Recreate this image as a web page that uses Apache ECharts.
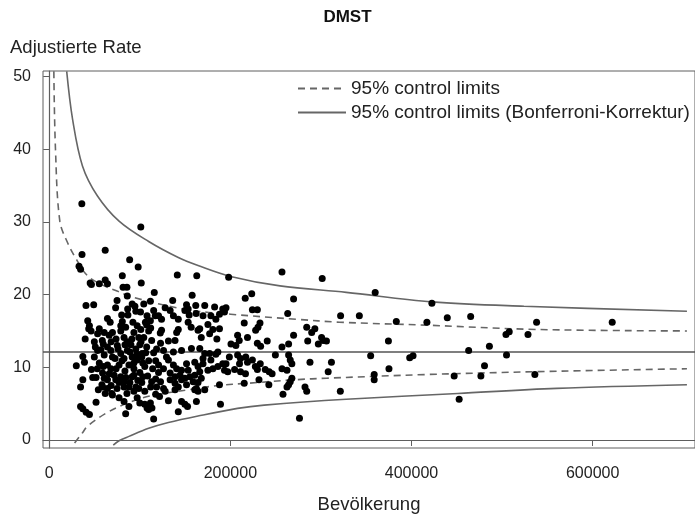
<!DOCTYPE html>
<html><head><meta charset="utf-8">
<script src="https://cdn.jsdelivr.net/npm/echarts@6/dist/echarts.min.js"></script>
<style>html,body{margin:0;padding:0;background:#fff}#c{width:695px;height:519px}</style>
</head><body><div id="c"></div>
<script>
const xTicks = [0, 200000, 400000, 600000];
const yTicks = [0, 10, 20, 30, 40, 50];
const centerRate = 12.2;

const pop = [36000,101100,61800,36200,88800,32900,34600,98200,80700,141400,162900,45200,46600,55300,61800,64300,101600,81500,85800,116000,86200,157800,74900,40600,49100,91600,94600,104400,111700,136300,73300,86600,128000,133500,137100,142500,151600,153400,149800,154500,161800,171700,182600,191600,80000,86900,95600,100800,108000,117100,42500,44400,64300,67300,80700,79000,84400,92400,97100,106200,111700,55300,43600,46200,39700,53400,60700,66200,69800,79000,82600,86200,93500,98900,101400,53400,57100,64300,68100,69800,75200,79000,82600,86200,91600,97100,102500,37100,38900,29900,64300,68100,48000,51700,58900,60700,64300,71700,73500,79000,82600,91600,93500,37100,34600,58900,64300,82600,69800,77100,82600,88000,97100,100000,51700,34600,37100,40800,44400,84400,58200,69100,105500,108000,109800,115300,131600,142500,146100,149800,162500,189100,188000,167900,160700,164300,138900,142500,122600,140700,131600,138900,166200,177100,188000,185100,126200,137100,146100,157000,166200,171700,177100,186200,131600,137100,140700,146100,151600,153400,160700,164300,169800,175200,180700,186200,191600,166200,133500,138900,144400,149800,155300,160700,133500,138900,146100,151600,158900,162500,171700,126200,128000,121800,111700,113400,152700,101100,109800,104400,113100,100000,107600,115300,102200,109800,105500,114200,100000,108700,117500,102200,112000,105500,117500,98900,117500,120700,122900,122900,49800,58600,73800,90200,95600,88000,93500,77100,72700,83600,97800,88000,93500,74900,49800,55300,60700,46600,54200,115300,120700,124000,162200,169800,178500,184000,107600,112000,153400,156700,175200,180700,124000,142500,198100,257000,301400,216400,223600,269800,321700,263300,195200,193500,188000,224300,229800,232700,230500,227900,215300,284300,289800,293300,269800,285400,300700,302500,297100,240700,264300,257000,229800,233400,208000,209800,218900,206100,200700,167900,164300,249700,264300,266100,267900,287900,311600,308000,217000,208000,211200,218900,224300,210100,198900,195200,193500,184000,178500,169800,197100,204700,211200,216700,227600,229800,233000,238500,242900,246100,257000,262500,267900,266100,264300,262500,282400,284300,321400,258100,242500,231600,215300,276300,164300,359900,422500,342400,383200,417000,439500,465300,538100,621600,507900,504300,528600,306100,374500,486000,463100,354900,398000,401700,504900,375100,480600,358800,358800,447100,476600,536200,452600,
  50930,59650,68370,76010,83640,91270,96730,89090,80370,73830,66190,53110,59650,84730,89090,77100,68370,95640,103270,113080,118540,120720,126170,129440,118540,106540,103270,93460,85820,61830];
const rate = [32.5,29.3,26.1,25.5,24.8,23.9,23.5,23.8,22.6,22.7,22.6,21.6,21.4,21.5,22.0,21.5,21.6,21.0,21.0,20.3,19.8,19.9,19.2,18.5,18.6,18.7,18.4,18.7,19.1,19.2,18.2,18.0,18.2,17.8,17.1,16.6,18.6,18.0,17.8,17.2,18.5,18.5,18.3,18.0,17.2,17.2,17.7,17.6,17.1,17.1,16.4,15.7,16.7,16.2,16.3,15.7,15.5,16.2,15.7,16.2,16.4,15.3,15.3,15.0,13.9,14.6,14.8,14.4,14.8,15.0,14.1,13.5,14.8,14.1,13.5,12.3,12.4,12.8,12.3,11.4,13.0,11.9,11.2,12.3,11.4,11.0,11.9,11.5,10.7,10.2,10.3,9.8,8.6,8.6,9.2,8.5,8.3,8.9,8.3,8.7,8.0,8.7,8.9,8.3,7.3,7.3,7.1,7.3,6.2,5.8,5.3,4.6,5.8,5.1,5.2,4.6,4.3,3.8,3.5,3.6,7.6,6.4,4.9,4.4,4.2,2.9,5.4,3.9,5.3,4.9,5.3,4.9,7.6,8.5,6.9,6.7,6.9,7.3,14.7,14.8,13.6,13.7,15.3,14.6,15.3,13.9,12.3,12.1,12.3,12.6,12.6,11.9,11.9,12.1,11.0,10.3,9.8,9.6,10.5,9.6,10.7,10.1,10.5,9.6,9.8,10.1,10.5,9.4,9.2,8.7,8.9,8.5,8.7,8.9,8.3,7.8,8.3,7.6,8.0,7.1,6.9,7.1,6.7,6.0,5.1,4.4,4.6,15.2,15.0,14.1,13.7,13.1,12.8,12.0,11.4,10.9,10.1,9.8,9.3,8.8,8.4,7.9,7.3,6.7,6.3,7.1,10.9,9.3,8.0,13.3,13.5,13.7,13.9,13.1,12.5,10.3,9.8,10.3,11.2,9.5,8.2,7.3,6.7,7.1,11.4,10.6,11.7,9.7,6.9,17.8,17.1,16.6,17.4,17.1,17.1,16.6,15.8,15.4,16.2,15.5,15.9,15.2,15.1,15.2,22.4,23.1,22.2,19.5,20.1,19.4,17.1,17.4,18.2,17.6,17.3,17.9,17.9,16.1,15.5,15.1,16.1,15.5,14.8,15.3,14.4,13.6,14.1,13.7,13.2,13.6,13.2,12.8,13.3,12.9,14.4,13.7,14.1,13.0,13.2,14.1,15.1,11.7,11.7,11.0,10.5,10.7,10.7,9.4,11.4,11.7,11.2,10.7,11.0,10.5,11.4,10.5,9.6,11.8,11.0,11.2,9.4,9.7,9.4,9.1,10.1,9.7,10.5,9.7,9.4,9.1,9.8,9.6,8.5,8.0,7.6,7.3,7.3,6.7,6.7,6.3,7.6,8.3,7.8,3.0,7.9,20.3,18.8,17.1,16.3,16.2,16.8,17.0,16.2,16.2,14.9,14.5,14.5,13.6,13.6,12.9,12.3,11.6,11.3,11.6,11.7,9.8,10.2,9.0,8.3,8.8,8.8,9.0,5.6,
  12.8,13.2,13.5,12.5,13.1,13.9,11.8,12.1,10.9,9.8,9.1,9.8,10.1,8.6,7.9,7.9,7.5,7.3,8.7,8.0,7.3,10.3,9.8,11.4,12.5,12.0,10.6,10.6,6.4,6.4];

const dashUpperPop  = [5100, 6900, 11700, 20400, 30200, 42200, 60700, 74900, 90200, 153000, 200300, 273400, 320300, 415200, 538400, 704100];
const dashUpperRate = [50.7, 40.0, 30.1, 27.1, 24.8, 22.6, 21.2, 20.5, 19.7, 17.9, 17.3, 16.6, 16.2, 15.8, 15.2, 15.0];
const dashLowerPop  = [28000, 36800, 42200, 63000, 84700, 113100, 153500, 186200, 218900, 273400, 306100, 415200, 538400, 704100];
const dashLowerRate = [-0.4, 1.0, 1.9, 3.7, 5.0, 6.1, 6.9, 7.5, 7.8, 8.3, 8.5, 9.0, 9.4, 9.8];
const bonfUpperPop  = [19300, 25800, 36700, 53100, 77100, 109800, 142500, 164300, 200300, 254800, 327900, 422800, 524200, 704100];
const bonfUpperRate = [50.7, 44.1, 37.7, 33.6, 30.1, 27.3, 25.1, 24.0, 22.5, 21.2, 20.3, 19.0, 18.4, 17.7];
const bonfLowerPop  = [70700, 77100, 88000, 109800, 131600, 164300, 207900, 237400, 327900, 451200, 560200, 704100];
const bonfLowerRate = [-0.7, -0.1, 0.5, 1.6, 2.4, 3.3, 4.35, 4.8, 5.6, 6.4, 7.1, 7.6];

const legendDash = '95% control limits';
const legendBonf = '95% control limits (Bonferroni-Korrektur)';

const F = '"Liberation Sans", Arial, sans-serif';
const gray = '#5e5e5e';
const pairs = (xs, ys) => xs.map((x, i) => [x, ys[i]]);
const lineSeries = (name, xs, ys, type) => ({
  type: 'line', name, data: pairs(xs, ys), symbol: 'none', smooth: 0.35,
  lineStyle: { color: '#666', width: 1.6, type }, itemStyle: { color: '#666' },
  silent: true, z: 2
});

const chart = echarts.init(document.getElementById('c'));
chart.setOption({
  animation: false,
  title: { text: 'DMST', left: 'center', top: 4, textStyle: { fontFamily: F, fontSize: 17, fontWeight: 'bold', color: '#111' } },
  grid: { left: 43, top: 71, width: 660, bottom: 67, show: true, borderColor: gray, borderWidth: 1 },
  legend: {
    data: [legendDash, legendBonf], orient: 'vertical', left: 297, top: 79, padding: 0,
    itemWidth: 48, itemHeight: 14, itemGap: 5, selectedMode: false,
    itemStyle: { color: 'rgba(0,0,0,0)', borderWidth: 0, opacity: 0 },
    textStyle: { fontFamily: F, fontSize: 19, color: '#222' }
  },
  graphic: [{ type: 'text', left: 10, top: 38, style: { text: 'Adjustierte Rate', font: '18.5px "Liberation Sans", Arial, sans-serif', fill: '#222' } }],
  xAxis: {
    type: 'value', min: -6870, max: 713000,
    name: 'Bevölkerung', nameLocation: 'middle', nameGap: 47,
    nameTextStyle: { fontFamily: F, fontSize: 18.5, color: '#222' },
    axisLine: { show: true, lineStyle: { color: gray, width: 1.2 } },
    axisTick: { show: true, customValues: xTicks, length: 6, lineStyle: { color: gray } },
    axisLabel: { customValues: xTicks, formatter: v => String(v), fontFamily: F, fontSize: 16, color: '#222', margin: 18 },
    splitLine: { show: false }
  },
  yAxis: {
    type: 'value', min: -1.1, max: 50.75,
    axisLine: { show: true, lineStyle: { color: gray, width: 1.2 } },
    axisTick: { show: true, customValues: yTicks, length: 6, lineStyle: { color: gray } },
    axisLabel: { customValues: yTicks, fontFamily: F, fontSize: 16, color: '#222', margin: 12 },
    splitLine: { show: false }
  },
  series: [
    lineSeries(legendDash, dashUpperPop, dashUpperRate, [7, 5]),
    lineSeries(legendDash, dashLowerPop, dashLowerRate, [7, 5]),
    lineSeries(legendBonf, bonfUpperPop, bonfUpperRate, 'solid'),
    lineSeries(legendBonf, bonfLowerPop, bonfLowerRate, 'solid'),
    {
      type: 'scatter', name: 'Kreise', data: pairs(pop, rate), symbolSize: 7,
      itemStyle: { color: '#000', opacity: 1 }, z: 5, silent: true,
      markLine: { silent: true, symbol: 'none', label: { show: false },
        lineStyle: { color: '#555', width: 1.6, type: 'solid' },
        data: [{ yAxis: centerRate }] }
    }
  ]
});
</script></body></html>
